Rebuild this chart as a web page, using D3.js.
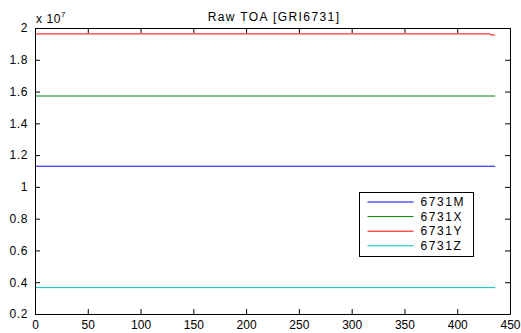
<!DOCTYPE html>
<html>
<head>
<meta charset="utf-8">
<script src="https://cdn.jsdelivr.net/npm/d3@7"></script>
<style>
body { margin: 0; background: #fff; }
text { font-family: "Liberation Sans", Arial, sans-serif; }
</style>
</head>
<body>
<div id="chart"></div>
<script>
// sample index along x (units of 1e7)
let sampleIdx = [1, 50, 100, 150, 200, 250, 300, 350, 400, 425, 430, 433, 436];
let seriesM = [1.130, 1.130, 1.130, 1.130, 1.130, 1.130, 1.130, 1.130, 1.130, 1.130, 1.130, 1.130, 1.130];
let seriesX = [1.572, 1.572, 1.572, 1.572, 1.572, 1.572, 1.572, 1.572, 1.572, 1.572, 1.572, 1.572, 1.572];
let seriesY = [1.963, 1.963, 1.963, 1.963, 1.963, 1.963, 1.963, 1.963, 1.963, 1.963, 1.963, 1.956, 1.956];
let seriesZ = [0.366, 0.366, 0.366, 0.366, 0.366, 0.366, 0.366, 0.366, 0.366, 0.366, 0.366, 0.366, 0.366];
let names = ["6731M", "6731X", "6731Y", "6731Z"];
let colors = ["#0000ff", "#008000", "#ff0000", "#00bfbf"];
let xTicks = [0, 50, 100, 150, 200, 250, 300, 350, 400, 450];
let yTicks = [0.2, 0.4, 0.6, 0.8, 1, 1.2, 1.4, 1.6, 1.8, 2];

let width = 521, height = 333;
let margin = {top: 28, right: 11, bottom: 19, left: 35};

let svg = d3.select("#chart").append("svg")
    .attr("width", width)
    .attr("height", height);

let x = d3.scaleLinear().domain([0, 450]).range([margin.left, width - margin.right]);
let y = d3.scaleLinear().domain([0.2, 2]).range([height - margin.bottom, margin.top]);

let series = [seriesM, seriesX, seriesY, seriesZ].map((vals, i) => ({name: names[i], color: colors[i], vals: vals}));

let line = d3.line()
    .x((d, i) => x(sampleIdx[i]))
    .y(d => y(d));

svg.selectAll("path.series")
    .data(series)
    .enter()
    .append("path")
    .attr("class", "series")
    .attr("d", d => line(d.vals))
    .attr("fill", "none")
    .attr("stroke", d => d.color)
    .attr("stroke-width", 1);

// axes, matlab style: inward ticks on all four sides
let tick = 5;
let fmt = d => d3.format("")(+d.toFixed(1));
let styleText = g => g.selectAll("text")
    .attr("font-size", 12)
    .attr("fill", "#000")
    .attr("font-family", "Liberation Sans, Arial, sans-serif");

svg.append("g")
    .attr("transform", `translate(0,${height - margin.bottom})`)
    .call(d3.axisBottom(x).tickValues(xTicks).tickSizeInner(-tick).tickSizeOuter(0).tickPadding(6))
    .call(styleText);

svg.append("g")
    .attr("transform", `translate(0,${margin.top})`)
    .call(d3.axisTop(x).tickValues(xTicks).tickSizeInner(-tick).tickSizeOuter(0).tickFormat(""));

svg.append("g")
    .attr("transform", `translate(${margin.left},0)`)
    .call(d3.axisLeft(y).tickValues(yTicks).tickSizeInner(-tick).tickSizeOuter(0).tickPadding(7).tickFormat(fmt))
    .call(styleText)
    .call(g => g.selectAll("text").attr("letter-spacing", 0.6));

svg.append("g")
    .attr("transform", `translate(${width - margin.right},0)`)
    .call(d3.axisRight(y).tickValues(yTicks).tickSizeInner(-tick).tickSizeOuter(0).tickFormat(""));

svg.selectAll(".domain").attr("stroke", "#000");
svg.selectAll(".tick line").attr("stroke", "#000");

// exponent label
let expo = svg.append("text")
    .attr("x", 36)
    .attr("y", 23)
    .attr("font-size", 12)
    .attr("letter-spacing", 0.6);
expo.append("tspan").text("x 10");
expo.append("tspan").attr("dy", -6).attr("font-size", 8).text("7");

// title
svg.append("text")
    .attr("x", 274)
    .attr("y", 21)
    .attr("text-anchor", "middle")
    .attr("font-size", 12)
    .attr("letter-spacing", 1.4)
    .text("Raw TOA [GRI6731]");

// legend
let lg = svg.append("g").attr("transform", "translate(359.5,192.5)");
lg.append("rect")
    .attr("width", 114)
    .attr("height", 64)
    .attr("fill", "#fff")
    .attr("stroke", "#000");

let items = lg.selectAll("g.item")
    .data(series)
    .enter()
    .append("g")
    .attr("class", "item")
    .attr("transform", (d, i) => `translate(0,${9.5 + i * 14.6})`);

items.append("line")
    .attr("x1", 8).attr("x2", 54)
    .attr("stroke", d => d.color)
    .attr("stroke-width", 1);

items.append("text")
    .attr("x", 61)
    .attr("y", 4)
    .attr("font-size", 12)
    .attr("letter-spacing", 1.6)
    .text(d => d.name);
</script>
</body>
</html>
